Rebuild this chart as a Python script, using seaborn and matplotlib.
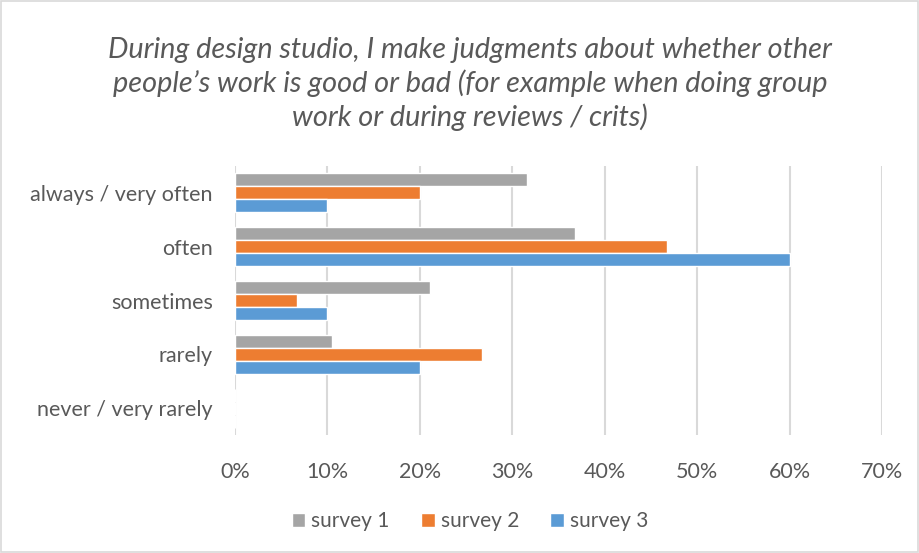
import matplotlib
matplotlib.use("agg")
import matplotlib.pyplot as plt
import seaborn as sns
import pandas as pd
from matplotlib.patches import Rectangle
from matplotlib.ticker import PercentFormatter

categories = ["always / very often", "often", "sometimes", "rarely", "never / very rarely"]
surveys = ["survey 1", "survey 2", "survey 3"]
survey1 = [31.6, 36.8, 21.1, 10.5, 0.0]
survey2 = [20.0, 46.7, 6.7, 26.7, 0.0]
survey3 = [10.0, 60.0, 10.0, 20.0, 0.0]
colors = ["#A5A5A5", "#ED7D31", "#5B9BD5"]

rows = []
for name, vals in zip(surveys, [survey1, survey2, survey3]):
    for cat, v in zip(categories, vals):
        rows.append({"answer": cat, "survey": name, "pct": v})
df = pd.DataFrame(rows)

sns.set_style("white")
plt.rcParams["font.family"] = ["Lato", "DejaVu Sans"]
text_color = "#595959"

fig = plt.figure(figsize=(9.2, 5.53), dpi=100)
ax = fig.add_axes([0.2554, 0.213, 0.7033, 0.487])

sns.barplot(data=df, y="answer", x="pct", hue="survey", order=categories,
            hue_order=surveys, palette=colors, orient="h", width=0.73,
            saturation=1, ax=ax, legend=True)

ax.set_xlim(0, 70)
ax.set_xticks(range(0, 71, 10))
ax.xaxis.set_major_formatter(PercentFormatter(decimals=0))
ax.set_xlabel("")
ax.set_ylabel("")
ax.grid(axis="x", color="#D9D9D9", linewidth=1.5)
ax.set_axisbelow(True)
for s in ax.spines.values():
    s.set_visible(False)
ax.tick_params(axis="both", length=0, labelsize=15.5, colors=text_color)
ax.tick_params(axis="x", pad=19)
ax.tick_params(axis="y", pad=16)

handles, labels = ax.get_legend_handles_labels()
ax.get_legend().remove()
fig.legend(handles, labels, loc="center", bbox_to_anchor=(0.511, 0.058), ncol=3,
           frameon=False, fontsize=15, handlelength=0.65, handleheight=0.65,
           handletextpad=0.3, columnspacing=1.5, labelcolor=text_color)

fig.text(0.511, 0.848,
         "During design studio, I make judgments about whether other\n"
         "people\u2019s work is good or bad (for example when doing group\n"
         "work or during reviews / crits)",
         ha="center", va="center", fontsize=20.8, style="italic",
         color=text_color, linespacing=1.3)

fig.patches.append(Rectangle((0.001, 0.002), 0.997, 0.996, transform=fig.transFigure,
                             fill=False, edgecolor="#D9D9D9", linewidth=1.2))

fig.savefig("out.png", dpi=100, facecolor="white")
